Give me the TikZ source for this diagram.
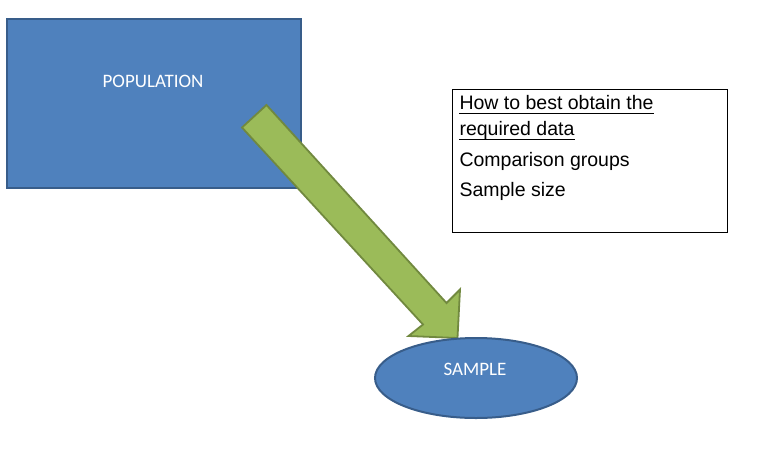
\documentclass[tikz,border=0pt]{standalone}
\usepackage{fontspec}
\setmainfont{Liberation Sans}
\newfontfamily\calib{Carlito}
\usetikzlibrary{shapes.geometric}
\definecolor{shapeblue}{HTML}{4F81BD}
\definecolor{shapeblueline}{HTML}{385D8A}
\definecolor{arrowgreen}{HTML}{9BBB59}
\definecolor{arrowgreenline}{HTML}{71893F}
\tikzset{
  bluebox/.style={draw=shapeblueline, fill=shapeblue, line width=2pt, inner sep=0pt},
  shapelabel/.style={text=white, font=\calib\fontsize{19}{23}\selectfont, inner sep=0pt},
  boxtext/.style={font=\fontsize{19.5}{23}\selectfont, inner sep=0pt, anchor=base west},
  uline/.style={line width=1pt, draw=black},
}
\begin{document}
\begin{tikzpicture}[x=1pt, y=-1pt]
\useasboundingbox (0,0) rectangle (762,451);
% population rectangle
\node[bluebox, rectangle, minimum width=294pt, minimum height=169pt] (pop) at (154,103.5) {};
\node[shapelabel] (poplabel) at (153,81.5) {POPULATION};
% arrow
\draw[fill=arrowgreen, draw=arrowgreenline, line width=1.8pt, line join=miter]
  (266.5,105) -- (446.5,303) -- (460,289.5) -- (457.5,338) -- (408.5,336) -- (423,324.5) -- (242,127.5) -- cycle;
% sample ellipse
\node[bluebox, ellipse, minimum width=202pt, minimum height=80pt] (sample) at (476,378) {};
\node[shapelabel] (samplelabel) at (475,369) {SAMPLE};
% text box
\node[draw=black, line width=1pt, rectangle, minimum width=275pt, minimum height=143pt, inner sep=0pt] (info) at (589.5,160.5) {};
\node[boxtext] (l1) at (459.3,109) {How to best obtain the};
\node[boxtext] (l2) at (459.3,135) {required data};
\node[boxtext] (l3) at (459.3,166) {Comparison groups};
\node[boxtext] (l4) at (459.3,196.5) {Sample size};
\draw[uline] ([yshift=-4pt]l1.base west) -- ([yshift=-4pt]l1.base east);
\draw[uline] ([yshift=-4pt]l2.base west) -- ([yshift=-4pt]l2.base east);
\end{tikzpicture}
\end{document}
